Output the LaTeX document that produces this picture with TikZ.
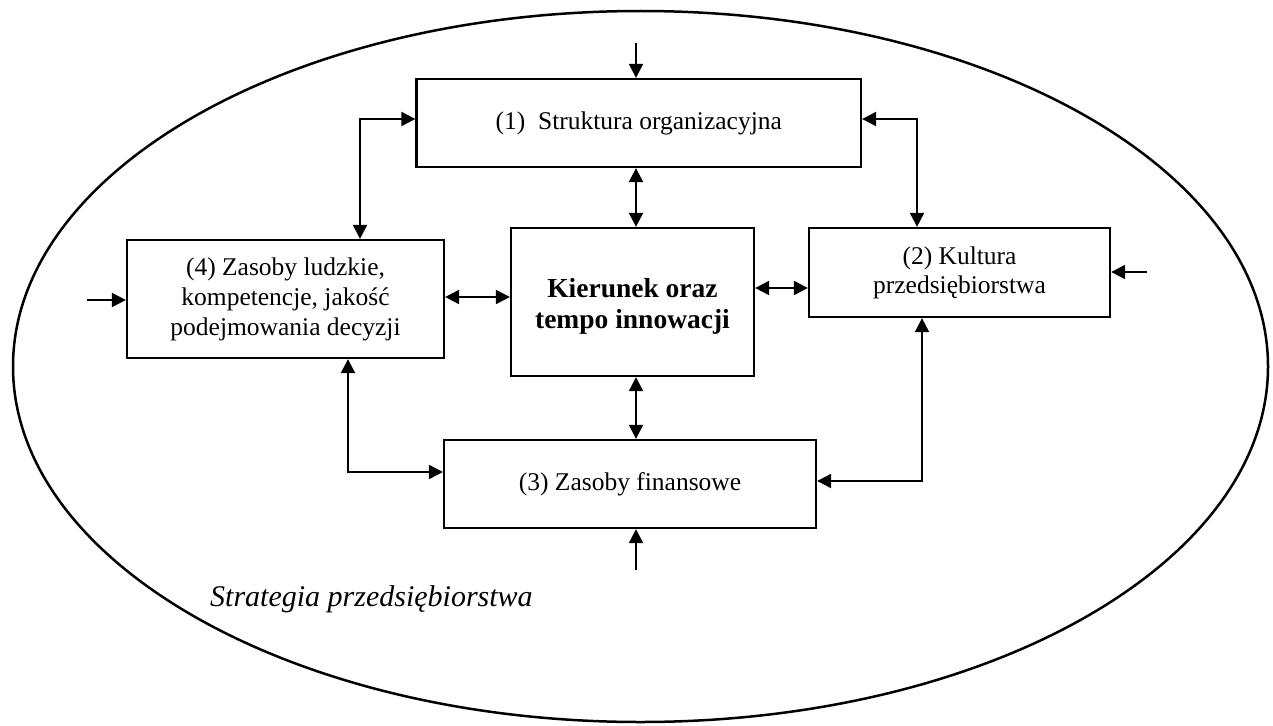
\documentclass[tikz,border=0pt]{standalone}
\usepackage{fontspec}
\setmainfont{Liberation Serif}
\usetikzlibrary{arrows.meta}

\tikzset{
  box/.style={draw, line width=2.3pt, align=center, inner sep=0pt,
              font=\fontsize{25.5pt}{30pt}\selectfont},
  tip/.tip={Triangle[length=14pt,width=14pt]},
  one/.style={line width=2.1pt, -tip},
  both/.style={line width=2.1pt, tip-tip},
  rim/.style={draw, line width=2.5pt}
}

\begin{document}
\begin{tikzpicture}[x=1pt, y=-1pt]
  \useasboundingbox (0,0) rectangle (1273,725);

  % outer frame: the company strategy
  \draw[rim] (640.5,366.5) ellipse [x radius=627.5, y radius=355.5];

  % boxes
  \node[box, minimum width=444.5pt, minimum height=88pt] (s1) at (638.75,123)
       {(1)\ \ Struktura organizacyjna};
  \node[box, minimum width=301pt, minimum height=89pt] (s2) at (959.5,272.5)
       {(2) Kultura\\[-1pt]przedsiębiorstwa};
  \node[box, minimum width=372pt, minimum height=88pt] (s3) at (630,484)
       {(3) Zasoby finansowe};
  \node[box, minimum width=317pt, minimum height=118pt] (s4) at (285.5,299)
       {(4) Zasoby ludzkie,\\kompetencje, jakość\\podejmowania decyzji};
  \node[box, minimum width=243pt, minimum height=148pt] (c) at (632.5,302) {};
  \node[align=center, inner sep=0pt,
        font=\fontsize{27.5pt}{31pt}\selectfont\bfseries] (ct)
       at ([yshift=-4pt]c.center) {Kierunek oraz\\tempo innowacji};

  \node[font=\fontsize{30pt}{36pt}\selectfont\itshape, anchor=base west, inner sep=0pt]
       (strat) at (210,606) {Strategia przedsiębiorstwa};

  % bend points and free ends
  \coordinate (vx) at (636,0);
  \coordinate (b41) at (360,119);
  \coordinate (b12) at (917,119);
  \coordinate (b43) at (348,472);
  \coordinate (b23) at (922,481);
  \coordinate (in1) at (636,43);
  \coordinate (in3) at (636,570);
  \coordinate (in4) at (87,300);
  \coordinate (in2) at (1147,272);

  % external inputs
  \draw[one] (in1) -- (in1 |- s1.north);
  \draw[one] (in3) -- (in3 |- s3.south);
  \draw[one] (in4) -- (in4 -| s4.west);
  \draw[one] (in2) -- (in2 -| s2.east);

  % links with the central box
  \draw[both] (s1.south -| vx) -- (c.north -| vx);
  \draw[both] (c.south -| vx) -- (s3.north -| vx);
  \draw[both] (s4.east |- 0,297) -- (c.west |- 0,297);
  \draw[both] (c.east |- 0,288) -- (s2.west |- 0,288);

  % links around the ring
  \draw[both] (s4.north -| b41) |- (s1.west |- b41);
  \draw[both] (s1.east |- b12) -| (s2.north -| b12);
  \draw[both] (s4.south -| b43) |- (s3.west |- b43);
  \draw[both] (s2.south -| b23) |- (s3.east |- b23);
\end{tikzpicture}
\end{document}
